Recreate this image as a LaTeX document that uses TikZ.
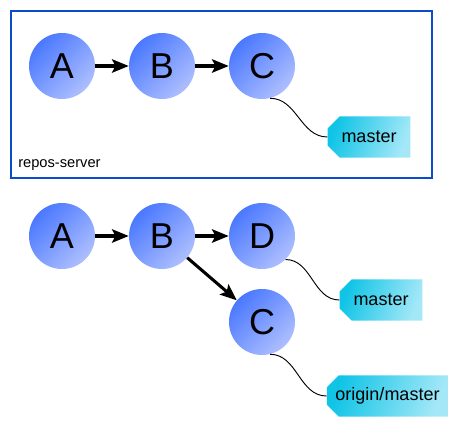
\documentclass[tikz,border=0pt]{standalone}
\usepackage{fontspec}
\setmainfont{Liberation Sans}
\usetikzlibrary{arrows.meta,shapes.misc}

\definecolor{commitdark}{HTML}{4A78FF}
\definecolor{commitlight}{HTML}{AEBFFF}
\definecolor{tagdark}{HTML}{10C4E6}
\definecolor{taglight}{HTML}{A4E8F8}
\definecolor{serverblue}{HTML}{0B4DC8}

\begin{document}
\begin{tikzpicture}[x=0.75pt,y=-0.75pt,>={Stealth[length=12.5pt,width=10pt,inset=2.5pt]},
  commit/.style={circle,minimum size=49.5pt,inner sep=0pt,top color=commitdark,bottom color=commitlight,shading angle=45,font=\fontsize{27}{30}\selectfont},
  branch/.style={chamfered rectangle,chamfered rectangle corners={north west,south west},chamfered rectangle sep=4.5pt,
    minimum height=31pt,inner xsep=2pt,left color=tagdark,right color=taglight,shading angle=70,font=\fontsize{13.5}{15}\selectfont},
  parent/.style={->,line width=2.3pt},
  pointer/.style={black,line width=0.7pt}]
  \useasboundingbox (0,0) rectangle (449,427);
  % repositorio del servidor
  \draw[serverblue,line width=2.2pt] (11,11) rectangle (432,178);
  \node[anchor=base west,font=\fontsize{11}{13}\selectfont,inner sep=0pt] (srv) at (18,168) {repos-server};
  \node[commit] (a1) at (62,66) {A};
  \node[commit] (b1) at (162,66) {B};
  \node[commit] (c1) at (262,66) {C};
  \node[branch,minimum width=62pt] (m1) at (369,137) {master};
  \draw[parent] (a1) -- (b1);
  \draw[parent] (b1) -- (c1);
  \draw[pointer] (c1.-76) to[out=0,in=180] (m1.west);
  % repositorio local
  \node[commit] (a2) at (62,236) {A};
  \node[commit] (b2) at (162,236) {B};
  \node[commit] (d2) at (262,236) {D};
  \node[commit] (c2) at (262,322) {C};
  \node[branch,minimum width=62pt] (m2) at (381,300) {master};
  \node[branch,minimum width=90pt] (o2) at (387.5,396) {origin/master};
  \draw[parent] (a2) -- (b2);
  \draw[parent] (b2) -- (d2);
  \draw[parent] (b2) -- (c2);
  \draw[pointer] (d2.-45) to[out=0,in=180] (m2.west);
  \draw[pointer] (c2.-76) to[out=0,in=180] (o2.west);
\end{tikzpicture}
\end{document}
